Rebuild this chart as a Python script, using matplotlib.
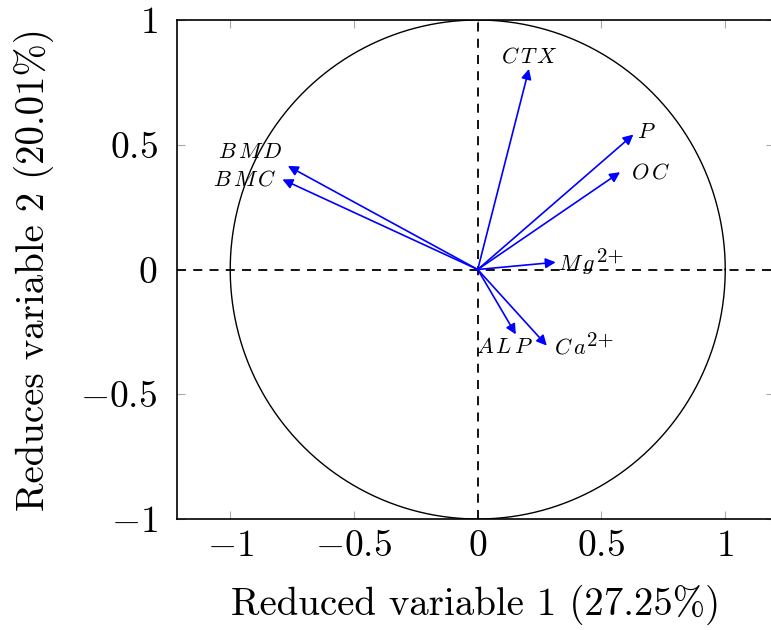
import numpy as np
import matplotlib
matplotlib.use('Agg')
import matplotlib.pyplot as plt

# Computer Modern look, like the LaTeX original
plt.rcParams['font.family'] = 'serif'
plt.rcParams['font.serif'] = ['cmr10', 'DejaVu Serif']
plt.rcParams['mathtext.fontset'] = 'cm'
plt.rcParams['axes.formatter.use_mathtext'] = True

# Loadings (arrow tips)
names = [r'B\,M\,D', r'B\,M\,C', r'C\,T\,X', 'P', r'O\,C', r'M\,g', r'A\,L\,P', r'C\,a']
sups = ['', '', '', '', '', '2+', '', '2+']
load_x = [-0.767, -0.789, 0.207, 0.629, 0.575, 0.315, 0.154, 0.279]
load_y = [0.415, 0.361, 0.804, 0.541, 0.390, 0.029, -0.260, -0.305]

# label anchor (centre, or left edge when there is a superscript)
label_x = [-0.92, -0.94, 0.206, 0.68, 0.70, 0.323, 0.11, 0.307]
label_y = [0.47, 0.36, 0.855, 0.55, 0.39, 0.02, -0.31, -0.313]

x_ticks = [-1, -0.5, 0, 0.5, 1]
y_ticks = [-1, -0.5, 0, 0.5, 1]
tick_text = ['$-1$', '$-0.5$', '$0$', '$0.5$', '$1$']

fig = plt.figure(figsize=(7.71, 6.3), dpi=100)
ax = fig.add_axes([177 / 771, 1 - 519 / 630, 597 / 771, 499 / 630])

# unit circle
t = np.linspace(0, 2 * np.pi, 400)
ax.plot(np.cos(t), np.sin(t), color='black', lw=1.0)

# dashed axes through origin
ax.axhline(0, color='black', lw=1.3, ls=(0, (5, 4)))
ax.axvline(0, color='black', lw=1.3, ls=(0, (5, 4)))

for n, s, x, y, lx, ly in zip(names, sups, load_x, load_y, label_x, label_y):
    ax.annotate('', xy=(x, y), xytext=(0, 0),
                arrowprops=dict(arrowstyle='-|>', color='blue', lw=1.2,
                                mutation_scale=15, shrinkA=0, shrinkB=0))
    if s:
        base = ax.text(lx, ly, '$' + n + '$', fontsize=16, ha='left', va='center')
        ax.annotate(s, xy=(1, 1), xycoords=base, xytext=(1, 4),
                    textcoords='offset points', fontsize=15, ha='left', va='top')
    else:
        ax.text(lx, ly, '$' + n + '$', fontsize=16, ha='center', va='center')

ax.set_xlim(-1.215, 1.197)
ax.set_ylim(-1, 1)
ax.set_xticks(x_ticks)
ax.set_yticks(y_ticks)
ax.set_xticklabels(tick_text)
ax.set_yticklabels(tick_text)
ax.tick_params(direction='in', length=6, width=0.8, color='#aaaaaa',
               labelsize=27, top=True, right=True)
ax.tick_params(axis='x', pad=8)
ax.tick_params(axis='y', pad=14)

for sp in ax.spines.values():
    sp.set_linewidth(1.2)

ax.set_xlabel('Reduced variable 1 (27.25%)', fontsize=28)
ax.set_ylabel('Reduces variable 2 (20.01%)', fontsize=28)
ax.xaxis.set_label_coords(0.5, -0.132)
ax.yaxis.set_label_coords(-0.206, 0.5)

fig.savefig('out.png', dpi=100)
